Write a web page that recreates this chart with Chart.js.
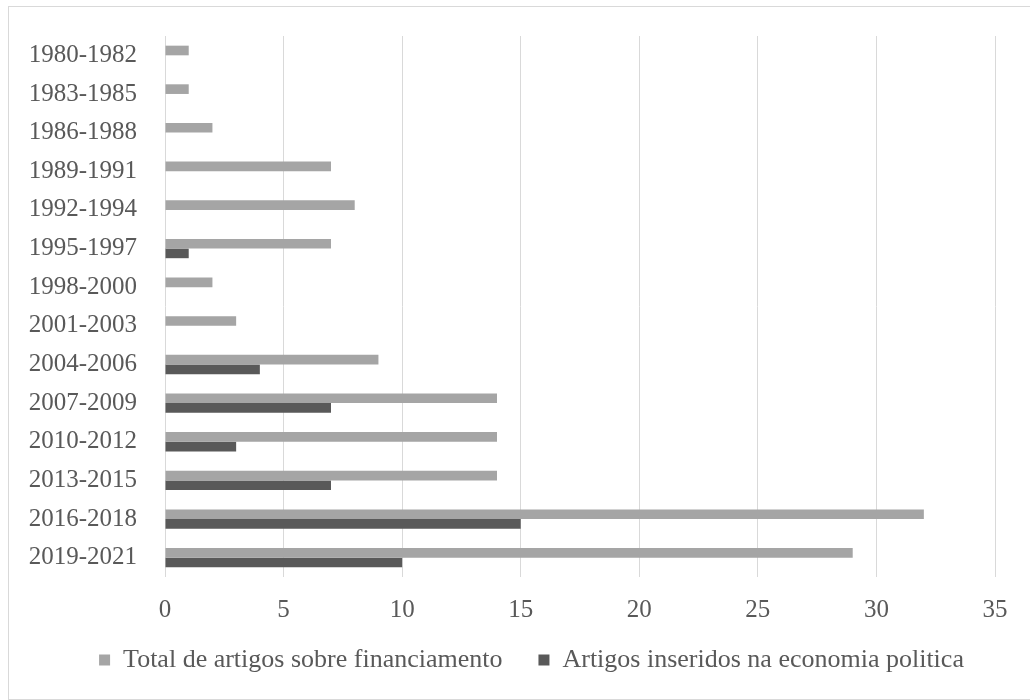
<!DOCTYPE html>
<html>
<head>
<meta charset="utf-8">
<script src="https://cdn.jsdelivr.net/npm/chart.js@4/dist/chart.umd.min.js"></script>
<style>
  body { margin: 0; background: #fff; }
  .frame { position: absolute; left: 8px; top: 6px; width: 1040px; height: 692px; border: 1px solid #d9d9d9; }
  .wrap { position: absolute; left: 0; top: 0; width: 1030px; height: 700px; }
</style>
</head>
<body>
<div class="frame"></div>
<div class="wrap"><canvas id="chart" width="1030" height="700"></canvas></div>
<script>
const periods = ['1980-1982', '1983-1985', '1986-1988', '1989-1991', '1992-1994', '1995-1997', '1998-2000',
  '2001-2003', '2004-2006', '2007-2009', '2010-2012', '2013-2015', '2016-2018', '2019-2021'];
const totalArtigos = [1, 1, 2, 7, 8, 7, 2, 3, 9, 14, 14, 14, 32, 29];
const economiaPolitica = [0, 0, 0, 0, 0, 1, 0, 0, 4, 7, 3, 7, 15, 10];
const xTicks = [0, 5, 10, 15, 20, 25, 30, 35];

const fontFamily = '"Liberation Serif", "Times New Roman", serif';
const textColor = '#595959';

// the legend in the original sits a little right of centre
const shiftLegend = {
  id: 'shiftLegend',
  afterLayout(chart) {
    if (chart.legend) { chart.legend.left += 24; chart.legend.right += 24; }
  }
};

new Chart(document.getElementById('chart').getContext('2d'), {
  type: 'bar',
  data: {
    labels: periods,
    datasets: [
      { label: 'Total de artigos sobre financiamento', data: totalArtigos, backgroundColor: '#a5a5a5', borderWidth: 0 },
      { label: 'Artigos inseridos na economia politica', data: economiaPolitica, backgroundColor: '#595959', borderWidth: 0 }
    ]
  },
  options: {
    indexAxis: 'y',
    responsive: false,
    animation: false,
    layout: { padding: { top: 36, left: 20, right: 35, bottom: 17 } },
    datasets: { bar: { categoryPercentage: 0.5, barPercentage: 1 } },
    plugins: {
      tooltip: { enabled: false },
      legend: {
        position: 'bottom',
        labels: {
          color: textColor,
          font: { family: fontFamily, size: 26 },
          boxWidth: 11, boxHeight: 11, padding: 10,
          // widen the gap between the two entries a bit
          generateLabels: chart => Chart.defaults.plugins.legend.labels.generateLabels(chart)
            .map((item, i) => (i === 0 ? { ...item, text: item.text + '\u2003' } : item))
        }
      }
    },
    scales: {
      x: {
        min: 0, max: 35,
        afterBuildTicks: axis => { axis.ticks = xTicks.map(v => ({ value: v })); },
        grid: { color: '#d9d9d9', drawTicks: false },
        border: { display: false },
        ticks: { color: textColor, font: { family: fontFamily, size: 25 }, padding: 18 },
        afterFit: axis => { axis.height = 60; }
      },
      y: {
        grid: { display: false },
        border: { display: false },
        ticks: { color: textColor, font: { family: fontFamily, size: 25 }, padding: 20 },
        afterFit: axis => { axis.width = 145; }
      }
    }
  },
  plugins: [shiftLegend]
});
</script>
</body>
</html>
